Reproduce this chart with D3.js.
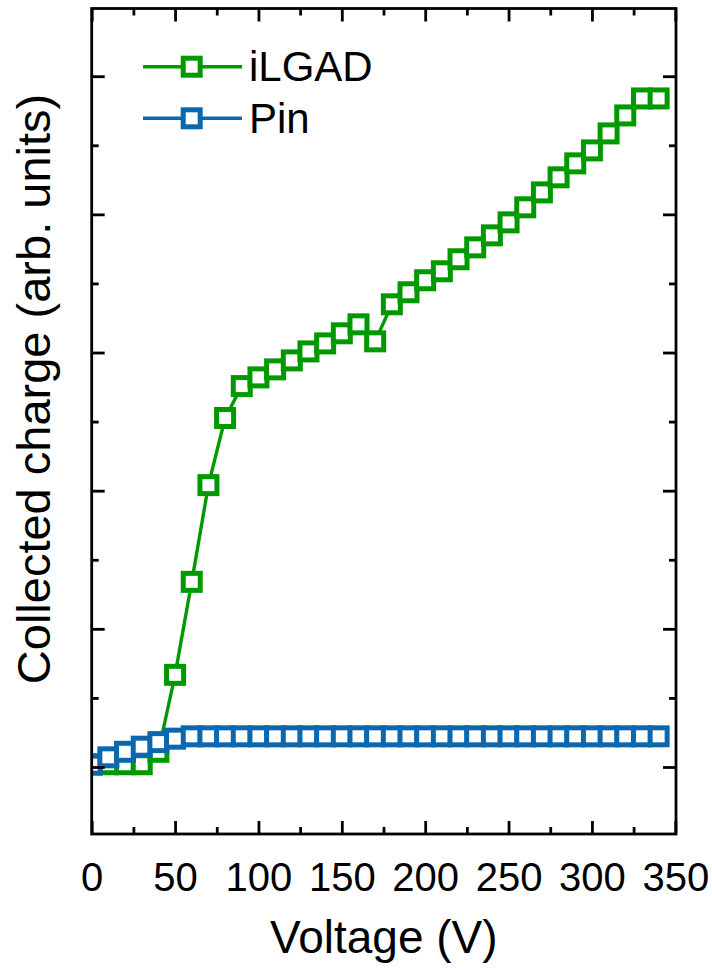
<!DOCTYPE html>
<html>
<head>
<meta charset="utf-8">
<script src="https://cdn.jsdelivr.net/npm/d3@7"></script>
<style>
  html, body { margin: 0; padding: 0; background: #ffffff; }
  svg { display: block; }
  text { font-family: "Liberation Sans", Arial, Helvetica, sans-serif; fill: #000; }
</style>
</head>
<body>
<div id="chart"></div>
<script>
// Bias voltage steps (V)
const voltage = [0, 10, 20, 30, 40, 50, 60, 70, 80, 90, 100, 110, 120, 130, 140, 150, 160,
                 170, 180, 190, 200, 210, 220, 230, 240, 250, 260, 270, 280, 290, 300, 310,
                 320, 330, 340];

// Collected charge, arbitrary units
const iLGAD = [0.02, 0.02, 0.02, 0.02, 0.11, 0.667, 1.34, 2.04, 2.526, 2.757, 2.82, 2.878,
               2.943, 3.008, 3.066, 3.139, 3.204, 3.081, 3.349, 3.436, 3.523, 3.588, 3.675,
               3.761, 3.848, 3.942, 4.051, 4.159, 4.268, 4.369, 4.463, 4.586, 4.716, 4.839,
               4.839];
const pin = [0.017, 0.07, 0.11, 0.147, 0.18, 0.205, 0.222, 0.222, 0.222, 0.222, 0.222, 0.222,
             0.222, 0.222, 0.222, 0.222, 0.222, 0.222, 0.222, 0.222, 0.222, 0.222, 0.222,
             0.222, 0.222, 0.222, 0.222, 0.222, 0.222, 0.222, 0.222, 0.222, 0.222, 0.222,
             0.222];

const seriesNames = ["iLGAD", "Pin"];

// Tick positions
const xMajorTicks = [0, 50, 100, 150, 200, 250, 300, 350];
const xMinorTicks = [25, 75, 125, 175, 225, 275, 325];
const yMajorTicks = [0, 1, 2, 3, 4, 5];
const yMinorTicks = [0.5, 1.5, 2.5, 3.5, 4.5];

const xLabel = "Voltage (V)";
const yLabel = "Collected charge (arb. units)";

const W = 712, H = 968;
const plotLeft = 91.7, plotRight = 676, plotTop = 8.5, plotBottom = 834;
const colors = { iLGAD: "#009a00", Pin: "#0b67ae" };

const svg = d3.select("#chart").append("svg")
  .attr("width", W).attr("height", H);

const x = d3.scaleLinear().domain([0, 350]).range([plotLeft, 675.3]);
const y = d3.scaleLinear().domain([-0.485, 5.49]).range([plotBottom, plotTop]);

// Plot-area clip so edge markers are cut at the frame
svg.append("defs").append("clipPath").attr("id", "plot-clip")
  .append("rect")
  .attr("x", plotLeft).attr("y", plotTop)
  .attr("width", plotRight - plotLeft).attr("height", plotBottom - plotTop);

const plot = svg.append("g").attr("clip-path", "url(#plot-clip)");

const line = d3.line()
  .x((d, i) => x(voltage[i]))
  .y(d => y(d));

function drawSeries(values, color) {
  plot.append("path")
    .datum(values)
    .attr("fill", "none")
    .attr("stroke", color)
    .attr("stroke-width", 3.4)
    .attr("d", line);
  plot.append("g").selectAll("rect")
    .data(values)
    .join("rect")
    .attr("x", (d, i) => x(voltage[i]) - 8.5)
    .attr("y", d => y(d) - 8.5)
    .attr("width", 17).attr("height", 17)
    .attr("fill", "#fff")
    .attr("stroke", color)
    .attr("stroke-width", 5);
}

drawSeries(iLGAD, colors.iLGAD);
drawSeries(pin, colors.Pin);

// Axes with inward ticks on all four sides
function styleAxis(g) {
  g.select(".domain").remove();
  g.selectAll(".tick line").attr("stroke", "#000").attr("stroke-width", 2.8);
}

svg.append("g").attr("transform", `translate(0,${plotBottom})`)
  .call(d3.axisBottom(x).tickValues(xMajorTicks).tickSizeInner(-13).tickSizeOuter(0)
    .tickPadding(29).tickFormat(d3.format("d")))
  .call(styleAxis)
  .call(g => g.selectAll(".tick text")
    .attr("font-size", 40).attr("font-family", "Liberation Sans, Arial, sans-serif")
    .attr("fill", "#000"));
svg.append("g").attr("transform", `translate(0,${plotBottom})`)
  .call(d3.axisBottom(x).tickValues(xMinorTicks).tickSizeInner(-7).tickSizeOuter(0).tickFormat(""))
  .call(styleAxis);

svg.append("g").attr("transform", `translate(0,${plotTop})`)
  .call(d3.axisTop(x).tickValues(xMajorTicks).tickSizeInner(-13).tickSizeOuter(0).tickFormat(""))
  .call(styleAxis);
svg.append("g").attr("transform", `translate(0,${plotTop})`)
  .call(d3.axisTop(x).tickValues(xMinorTicks).tickSizeInner(-7).tickSizeOuter(0).tickFormat(""))
  .call(styleAxis);

svg.append("g").attr("transform", `translate(${plotLeft},0)`)
  .call(d3.axisLeft(y).tickValues(yMajorTicks).tickSizeInner(-13).tickSizeOuter(0).tickFormat(""))
  .call(styleAxis);
svg.append("g").attr("transform", `translate(${plotLeft},0)`)
  .call(d3.axisLeft(y).tickValues(yMinorTicks).tickSizeInner(-7).tickSizeOuter(0).tickFormat(""))
  .call(styleAxis);

svg.append("g").attr("transform", `translate(${plotRight},0)`)
  .call(d3.axisRight(y).tickValues(yMajorTicks).tickSizeInner(-13).tickSizeOuter(0).tickFormat(""))
  .call(styleAxis);
svg.append("g").attr("transform", `translate(${plotRight},0)`)
  .call(d3.axisRight(y).tickValues(yMinorTicks).tickSizeInner(-7).tickSizeOuter(0).tickFormat(""))
  .call(styleAxis);

// Frame
svg.append("rect")
  .attr("x", plotLeft).attr("y", plotTop)
  .attr("width", plotRight - plotLeft).attr("height", plotBottom - plotTop)
  .attr("fill", "none").attr("stroke", "#000").attr("stroke-width", 2.8);

// Axis titles
svg.append("text")
  .attr("x", (plotLeft + plotRight) / 2).attr("y", 953)
  .attr("text-anchor", "middle")
  .attr("font-size", 46)
  .text(xLabel);

svg.append("text")
  .attr("transform", "translate(50,389) rotate(-90)")
  .attr("text-anchor", "middle")
  .attr("font-size", 47)
  .text(yLabel);

// Legend
const legend = svg.append("g");
seriesNames.forEach((name, i) => {
  const ly = 66.7 + i * 51.6;
  const c = colors[name];
  legend.append("line")
    .attr("x1", 143).attr("x2", 242).attr("y1", ly).attr("y2", ly)
    .attr("stroke", c).attr("stroke-width", 3.4);
  legend.append("rect")
    .attr("x", 191.7 - 8.5).attr("y", ly - 8.5)
    .attr("width", 17).attr("height", 17)
    .attr("fill", "#fff").attr("stroke", c).attr("stroke-width", 5);
  legend.append("text")
    .attr("x", 249).attr("y", ly + 14.5)
    .attr("font-size", 42)
    .text(name);
});
</script>
</body>
</html>
